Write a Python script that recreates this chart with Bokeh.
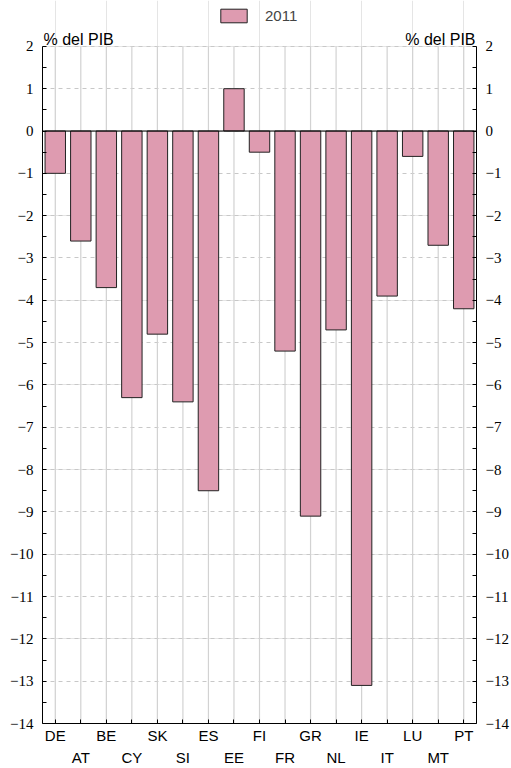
from bokeh.plotting import figure
from bokeh.models import (FixedTicker, LinearAxis, Range1d, Span, Label, Legend,
                          LegendItem, Grid, ColumnDataSource)
from bokeh.embed import file_html
from bokeh.resources import INLINE

countries = ["DE", "AT", "BE", "CY", "SK", "SI", "ES", "EE", "FI",
             "FR", "GR", "NL", "IE", "IT", "LU", "MT", "PT"]
values_2011 = [-1.0, -2.6, -3.7, -6.3, -4.8, -6.4, -8.5, 1.0, -0.5,
               -5.2, -9.1, -4.7, -13.1, -3.9, -0.6, -2.7, -4.2]
y_ticks = list(range(-14, 3))
y_minor = [t + 0.5 for t in range(-14, 2)]
series_name = "2011"
unit_label = "% del PIB"

idx = list(range(len(countries)))
src = ColumnDataSource(data=dict(x=idx, v=values_2011))
ymin, ymax = y_ticks[0], y_ticks[-1]
gsrc = ColumnDataSource(data=dict(x=idx, y0=[ymin] * len(idx), y1=[ymax] * len(idx)))

SANS = "Liberation Sans"
SERIF = "Liberation Serif"

# layout constants (pixels)
W, H = 511, 768
LEFT, RIGHT, BOTTOM = 42, 34, 43
TOP_GAP = 46          # space between canvas top and the y=ymax line (inside frame)
frame_h = H - BOTTOM
px_per_unit = (frame_h - TOP_GAP) / (ymax - ymin)
y_top = ymax + TOP_GAP / px_per_unit

p = figure(width=W, height=H, x_range=Range1d(-0.5, len(countries) - 0.5),
           y_range=Range1d(ymin, y_top), output_backend="svg", toolbar_location=None,
           x_axis_location=None, y_axis_location=None,
           min_border_left=LEFT, min_border_right=RIGHT, min_border_top=0,
           min_border_bottom=BOTTOM)
p.outline_line_color = None
p.background_fill_color = "white"
p.border_fill_color = "white"

p.segment(x0="x", y0="y0", x1="x", y1="y1", source=gsrc,
          line_color="#d2d2d2", line_width=1.2)
hgrid = Grid(dimension=1, ticker=FixedTicker(ticks=y_ticks, minor_ticks=[]),
             grid_line_color="#c8c8c8", grid_line_dash="4 4", grid_line_width=1)
p.add_layout(hgrid)

r = p.vbar(x="x", top="v", bottom=0, width=0.8, source=src,
           fill_color="#DE9BB0", line_color="#222222", line_width=1)

p.add_layout(Span(location=0, dimension="width", line_color="black", line_width=1))

def make_yaxis(standoff):
    return LinearAxis(ticker=FixedTicker(ticks=y_ticks, minor_ticks=y_minor),
                      bounds=(ymin, ymax),
                      major_tick_in=4, major_tick_out=0, minor_tick_in=4, minor_tick_out=0,
                      major_label_text_font=SERIF, major_label_text_font_size="15px",
                      major_label_text_color="black", axis_line_color="black",
                      major_tick_line_color="black", minor_tick_line_color="black",
                      major_label_standoff=standoff)

p.add_layout(make_yaxis(9), "left")
p.add_layout(make_yaxis(9), "right")

x_over = {i: (countries[i] if i % 2 == 0 else "\n" + countries[i]) for i in idx}
ax1 = LinearAxis(ticker=FixedTicker(ticks=idx, minor_ticks=[]),
                 major_label_overrides=x_over,
                 major_tick_in=4, major_tick_out=0, axis_line_color="black",
                 major_tick_line_color="black",
                 major_label_text_font=SANS, major_label_text_font_size="15px",
                 major_label_text_line_height=1.3,
                 major_label_text_color="black", major_label_standoff=3)
p.add_layout(ax1, "below")

p.add_layout(Label(x=-0.5, y=ymax, text=unit_label, x_offset=1, y_offset=7,
                   text_align="left", text_baseline="alphabetic",
                   text_font=SANS, text_font_size="16px", text_color="black"))
p.add_layout(Label(x=len(countries) - 0.5, y=ymax, text=unit_label, x_offset=-1, y_offset=7,
                   text_align="right", text_baseline="alphabetic",
                   text_font=SANS, text_font_size="16px", text_color="black"))

legend = Legend(items=[LegendItem(label=series_name, renderers=[r])],
                orientation="horizontal", location=(175, frame_h - 26),
                border_line_color=None, background_fill_alpha=0,
                glyph_width=33, glyph_height=17, label_standoff=15,
                label_text_font=SANS, label_text_font_size="15px",
                padding=0, margin=0)
p.add_layout(legend, "center")

open("out.html", "w").write(file_html(p, INLINE))
